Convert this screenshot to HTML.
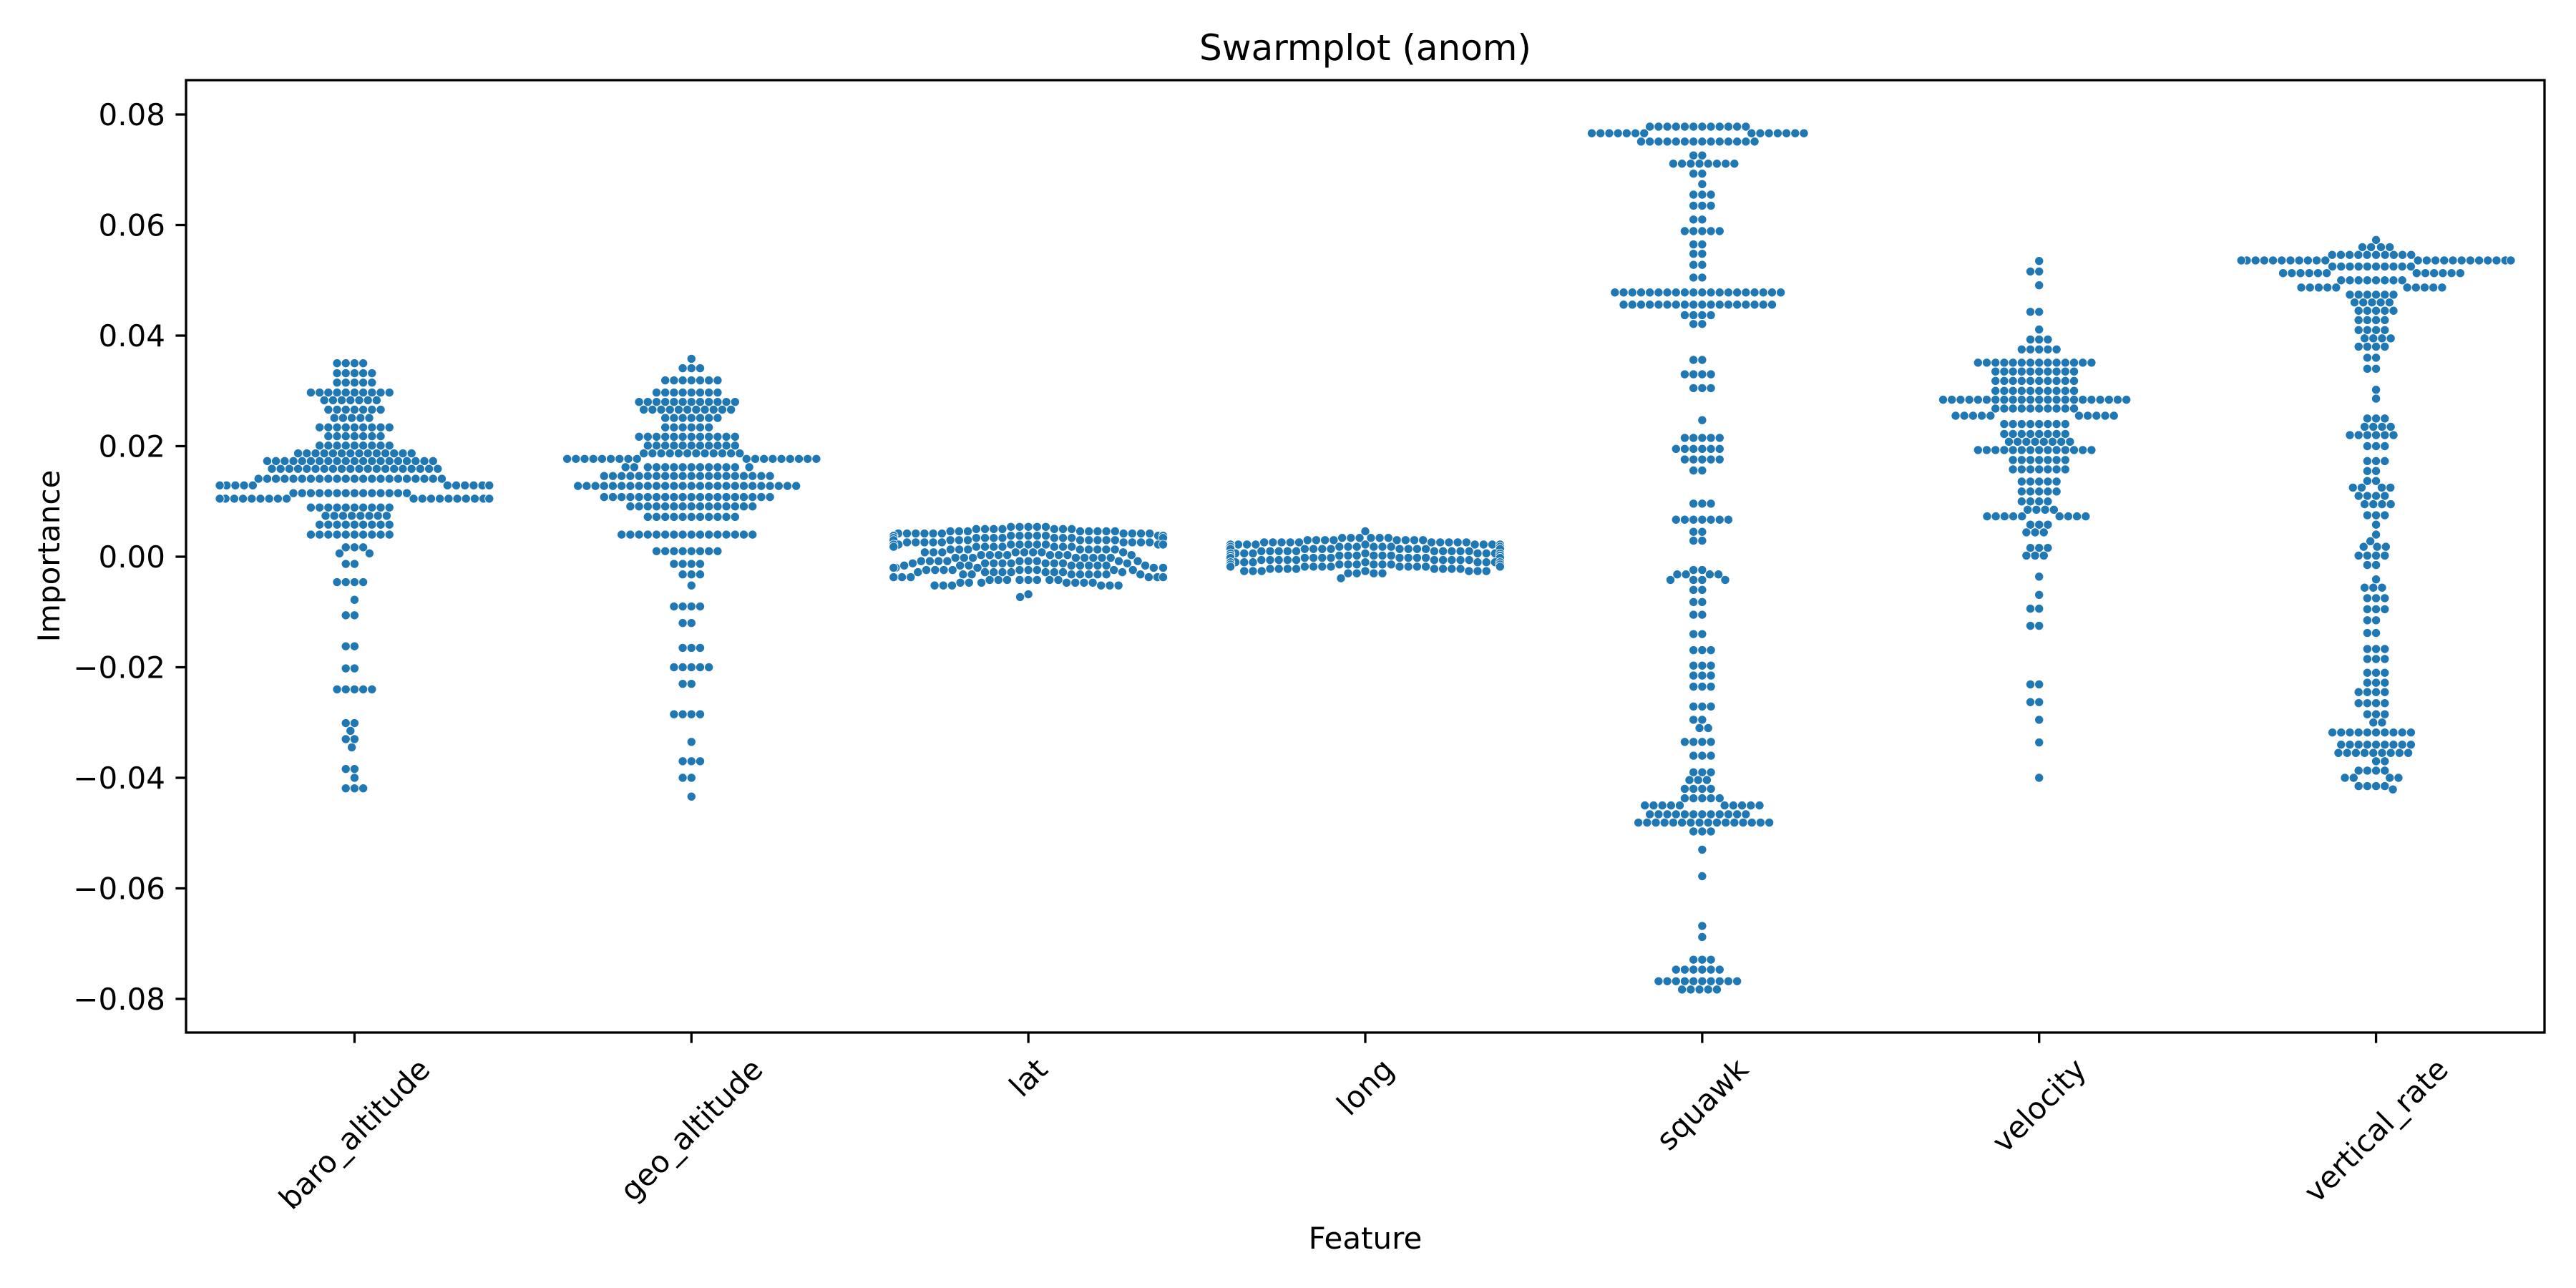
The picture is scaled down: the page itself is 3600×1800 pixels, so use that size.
<!DOCTYPE html>
<html><head><meta charset="utf-8"><style>
html,body{margin:0;padding:0;background:#fff;}
svg{display:block;font-family:"DejaVu Sans","Liberation Sans",sans-serif;}
</style></head><body>
<svg id="chart" width="3600" height="1800" viewBox="0 0 3600 1800" xmlns="http://www.w3.org/2000/svg">
<rect x="0" y="0" width="3600" height="1800" fill="#fff"/>
<text x="1908" y="84" font-size="50" text-anchor="middle">Swarmplot (anom)</text>
<g id="marks"></g>
<g id="axes"></g>
<text transform="translate(83,777) rotate(-90)" font-size="42" text-anchor="middle">Importance</text>
<text x="1908" y="1745" font-size="42" text-anchor="middle">Feature</text>
</svg>
<script>
const categories = ["baro_altitude","geo_altitude","lat","long","squawk","velocity","vertical_rate"];
const yTicks = [-0.08,-0.06,-0.04,-0.02,0.0,0.02,0.04,0.06,0.08];
const yTickLabels = ["\u22120.08","\u22120.06","\u22120.04","\u22120.02","0.00","0.02","0.04","0.06","0.08"];

const baroVals = [0.0350,0.0332,0.0315,0.0297,0.0283,0.0266,0.0251,0.0234,0.0218,0.0201,0.0187,0.0173,0.0159,0.0141,0.0129,0.0115,0.0105,0.0089,0.0074,0.0058,0.0040,0.0017,0.0006,-0.0013,-0.0046,-0.0078,-0.0106,-0.0162,-0.0202,-0.0240,-0.0301,-0.0315,-0.0330,-0.0345,-0.0384,-0.0400,-0.0419];
const baroCounts = [4,5,5,10,7,7,5,9,7,9,14,20,20,22,17,14,27,10,8,9,10,3,2,2,4,1,2,2,2,5,2,1,2,1,2,1,3];

const geoVals = [0.0358,0.0341,0.0319,0.0297,0.0280,0.0266,0.0251,0.0234,0.0217,0.0201,0.0187,0.0177,0.0162,0.0146,0.0128,0.0108,0.0091,0.0072,0.0040,0.0010,-0.0013,-0.0032,-0.0052,-0.0090,-0.0120,-0.0165,-0.0200,-0.0230,-0.0285,-0.0335,-0.0370,-0.0400,-0.0434];
const geoCounts = [1,3,7,8,12,11,7,6,12,11,12,18,14,20,26,20,15,11,16,8,4,3,1,4,2,3,5,2,4,1,3,2,1];

const latVals = [0.0054,0.0050,0.0046,0.0042,0.0038,0.0034,0.0030,0.0026,0.0022,0.0018,0.0013,0.0008,0.0003,-0.0002,-0.0008,-0.0012,-0.0016,-0.0020,-0.0024,-0.0028,-0.0032,-0.0037,-0.0042,-0.0047,-0.0052,-0.0068,-0.0073];
const latCounts = [5,7,8,10,10,9,9,9,9,8,8,8,8,8,9,9,9,9,9,9,8,8,8,7,6,1,1];

const longVals = [0.0046,0.0034,0.0030,0.0026,0.0022,0.0018,0.0014,0.0010,0.0006,0.0002,-0.0002,-0.0006,-0.0010,-0.0014,-0.0018,-0.0022,-0.0026,-0.0030,-0.0039];
const longCounts = [1,6,8,10,10,10,10,10,10,10,10,10,10,10,10,8,7,4,1];

const squawkVals = [0.0778,0.0766,0.0751,0.0726,0.0711,0.0693,0.0674,0.0655,0.0635,0.0610,0.0589,0.0565,0.0548,0.0528,0.0505,0.0478,0.0456,0.0437,0.0421,0.0356,0.0330,0.0305,0.0247,0.0215,0.0195,0.0176,0.0156,0.0096,0.0067,0.0045,0.0029,-0.0024,-0.0032,-0.0042,-0.0060,-0.0082,-0.0105,-0.0140,-0.0169,-0.0197,-0.0215,-0.0235,-0.0271,-0.0295,-0.0310,-0.0335,-0.0360,-0.0390,-0.0404,-0.0420,-0.0437,-0.0450,-0.0466,-0.0481,-0.0497,-0.0530,-0.0578,-0.0668,-0.0688,-0.0729,-0.0747,-0.0768,-0.0783];
const squawkCounts = [12,14,14,2,8,2,1,3,3,2,5,2,2,2,2,20,18,4,2,2,4,3,1,5,6,5,2,3,7,2,2,2,4,4,2,2,2,2,3,3,3,3,3,2,2,4,3,3,3,4,5,10,12,16,3,1,1,1,1,3,6,10,5];

const velocityVals = [0.0535,0.0516,0.0491,0.0443,0.0411,0.0393,0.0375,0.0351,0.0335,0.0318,0.0300,0.0284,0.0268,0.0255,0.0240,0.0222,0.0208,0.0193,0.0175,0.0158,0.0136,0.0118,0.0100,0.0085,0.0073,0.0058,0.0044,0.0016,0.0002,-0.0036,-0.0069,-0.0094,-0.0125,-0.0231,-0.0263,-0.0295,-0.0336,-0.0400];
const velocityCounts = [1,2,1,2,1,3,5,14,10,10,10,22,10,10,8,8,8,14,7,7,5,5,4,4,9,3,3,3,3,1,1,2,2,2,2,1,1,1];

const vrateVals = [0.0573,0.0560,0.0546,0.0536,0.0525,0.0513,0.0500,0.0487,0.0474,0.0460,0.0445,0.0428,0.0410,0.0395,0.0380,0.0360,0.0340,0.0302,0.0286,0.0250,0.0235,0.0220,0.0200,0.0173,0.0155,0.0137,0.0125,0.0110,0.0095,0.0075,0.0058,0.0040,0.0028,0.0018,0.0002,-0.0015,-0.0041,-0.0056,-0.0075,-0.0095,-0.0115,-0.0138,-0.0167,-0.0185,-0.0210,-0.0228,-0.0245,-0.0265,-0.0285,-0.0300,-0.0318,-0.0340,-0.0355,-0.0370,-0.0387,-0.0400,-0.0415,-0.0421];
const vrateCounts = [1,4,10,30,10,12,8,10,6,5,5,4,4,4,4,2,2,1,1,3,4,6,3,3,2,2,4,4,4,3,1,1,1,3,4,2,1,3,3,3,2,2,3,3,3,3,4,4,3,2,10,9,9,2,4,4,4,1];

const seriesVals = [baroVals,geoVals,latVals,longVals,squawkVals,velocityVals,vrateVals];
const seriesCounts = [baroCounts,geoCounts,latCounts,longCounts,squawkCounts,velocityCounts,vrateCounts];

const L = 260, R = 3556, T = 112, B = 1443;
const Y0 = 778, PX_PER_UNIT = 7725;
function yScale(v){ return Y0 - v * PX_PER_UNIT; }
const band = (R - L) / categories.length;
function xScale(i){ return L + band * (i + 0.5); }
const DIAM = 12.2, HALF_W = band * 0.4;
const NS = "http://www.w3.org/2000/svg";
const marks = document.getElementById('marks');
const axes = document.getElementById('axes');

function beeswarm(ys){
  const order = ys.map((y,i)=>i).sort((a,b)=>ys[a]-ys[b]);
  const placed = [];
  const xs = new Array(ys.length);
  for (const idx of order){
    const y = ys[idx];
    const nb = placed.filter(p => Math.abs(p.y - y) < DIAM);
    const cands = [0];
    for (const n of nb){
      const dx = Math.sqrt(Math.max(0, DIAM*DIAM - (n.y-y)*(n.y-y)));
      cands.push(n.x + dx, n.x - dx);
    }
    cands.sort((a,b)=>Math.abs(a)-Math.abs(b) || a-b);
    let best = cands[cands.length-1];
    for (const c of cands){
      let ok = true;
      for (const n of nb){
        const dx = c - n.x, dy = y - n.y;
        if (dx*dx + dy*dy < DIAM*DIAM - 0.01){ ok = false; break; }
      }
      if (ok){ best = c; break; }
    }
    placed.push({x:best, y:y});
    xs[idx] = best;
  }
  return xs.map(x => Math.max(-HALF_W, Math.min(HALF_W, x)));
}

seriesVals.forEach((vals, ci) => {
  const counts = seriesCounts[ci];
  const ys = [];
  vals.forEach((v, k) => { for (let c = 0; c < counts[k]; c++) ys.push(yScale(v)); });
  const xs = beeswarm(ys);
  const g = document.createElementNS(NS, 'g');
  
  
  ys.forEach((y, k) => {
    const c = document.createElementNS(NS, 'circle');
    
    
    c.setAttribute('cx', (xScale(ci) + xs[k]).toFixed(2));
    c.setAttribute('cy', y.toFixed(2));
    c.setAttribute('r', 6.1);
    c.setAttribute('fill', '#1f77b4');
    c.setAttribute('stroke', '#ffffff');
    c.setAttribute('stroke-width', '0.8');
    g.appendChild(c);
  });
  marks.appendChild(g);
});

const frame = document.createElementNS(NS, 'rect');


frame.setAttribute('x', L); frame.setAttribute('y', T);
frame.setAttribute('width', R - L); frame.setAttribute('height', B - T);
frame.setAttribute('fill', 'none'); frame.setAttribute('stroke', '#000'); frame.setAttribute('stroke-width', '3.3');
axes.appendChild(frame);

yTicks.forEach((t, i) => {
  const y = yScale(t);
  const ln = document.createElementNS(NS, 'line');
  
  
  ln.setAttribute('x1', L - 14.6); ln.setAttribute('x2', L);
  ln.setAttribute('y1', y); ln.setAttribute('y2', y);
  ln.setAttribute('stroke', '#000'); ln.setAttribute('stroke-width', '3.3');
  axes.appendChild(ln);
  const tx = document.createElementNS(NS, 'text');
  
  
  tx.setAttribute('x', L - 29); tx.setAttribute('y', y + 15);
  tx.setAttribute('font-size', '42'); tx.setAttribute('text-anchor', 'end');
  tx.textContent = yTickLabels[i];
  axes.appendChild(tx);
});

categories.forEach((cat, i) => {
  const x = xScale(i);
  const ln = document.createElementNS(NS, 'line');
  
  
  ln.setAttribute('x1', x); ln.setAttribute('x2', x);
  ln.setAttribute('y1', B); ln.setAttribute('y2', B + 14.6);
  ln.setAttribute('stroke', '#000'); ln.setAttribute('stroke-width', '3.3');
  axes.appendChild(ln);
  const tx = document.createElementNS(NS, 'text');
  
  
  tx.setAttribute('font-size', '42');
  tx.setAttribute('text-anchor', 'middle');
  tx.setAttribute('dominant-baseline', 'central');
  tx.textContent = cat;
  axes.appendChild(tx);
  const len = tx.getComputedTextLength();
  const h = (len + 42) * Math.SQRT1_2;
  const cy = B + 29 + h / 2;
  tx.setAttribute('x', x); tx.setAttribute('y', cy);
  tx.setAttribute('transform', 'rotate(-45 ' + x + ' ' + cy + ')');
});
</script>
</body></html>
